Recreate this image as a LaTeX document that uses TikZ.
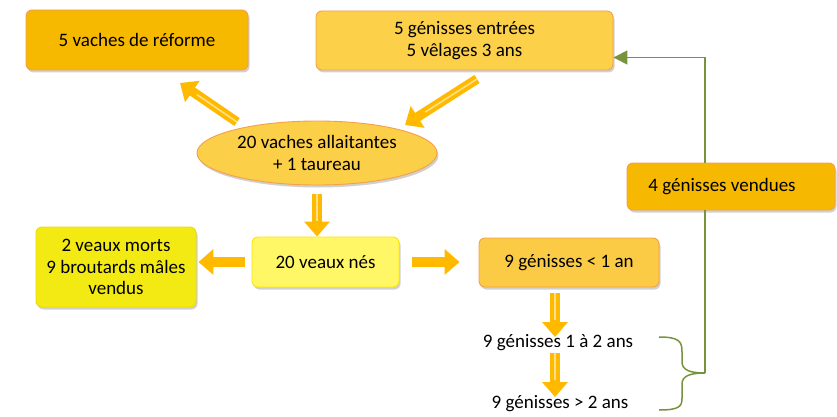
\documentclass[tikz,border=0pt]{standalone}
\usepackage{fontspec}
\setmainfont{Carlito}
\usetikzlibrary{shapes.geometric,arrows.meta,shadows,calc}
\definecolor{cRef}{HTML}{F7B800}
\definecolor{cEnt}{HTML}{FDD04A}
\definecolor{cEll}{HTML}{FCCF48}
\definecolor{cVend}{HTML}{F6B800}
\definecolor{cNes}{HTML}{FFF766}
\definecolor{cNesB}{HTML}{FFE500}
\definecolor{cMorts}{HTML}{F3EA14}
\definecolor{cMortsB}{HTML}{EEDC00}
\definecolor{cG}{HTML}{FCCB45}
\definecolor{cBord}{HTML}{F4A04A}
\definecolor{cArr}{HTML}{FFBA00}
\definecolor{cArrIn}{HTML}{FFDF8A}
\definecolor{cGreen}{HTML}{77933C}
\tikzset{
  txt/.style={font=\fontsize{19}{21.5}\selectfont, align=center, inner sep=1pt},
  boxnode/.style={txt, rectangle, rounded corners=6pt, draw=cBord, line width=0.9pt,
    drop shadow={shadow xshift=1.5pt, shadow yshift=-2.5pt, opacity=0.3, fill=black!60}},
  bigarrow/.style={draw=cArr, line width=9.5pt, -{Triangle[width=25pt,length=15pt]}},
  innerline/.style={draw=cArrIn, line width=1.6pt},
  greenline/.style={draw=cGreen, line width=1.5pt}
}
\begin{document}
\begin{tikzpicture}[x=1pt,y=-1pt]
\useasboundingbox[fill=white] (0,0) rectangle (837,417);

\node[boxnode, fill=cRef, minimum width=222pt, minimum height=60pt] (ref) at (137,40) {5 vaches de réforme};
\node[boxnode, fill=cEnt, minimum width=297pt, minimum height=59pt] (ent) at (464.5,40.5) {5 génisses entrées\\5 vêlages 3 ans};
\node[txt, ellipse, draw=cBord, line width=0.9pt, fill=cEll, minimum width=240pt, minimum height=64pt,
  drop shadow={shadow xshift=1.5pt, shadow yshift=-2.5pt, opacity=0.3, fill=black!60}] (ell) at (317,153) {20 vaches allaitantes\\+ 1 taureau};
\node[boxnode, fill=cVend, minimum width=208pt, minimum height=47pt] (vend) at (731,186.5) {\hspace*{-18pt}4 génisses vendues};
\node[boxnode, fill=cNes, draw=cNesB, minimum width=147pt, minimum height=50pt] (nes) at (325.5,262) {20 veaux nés};
\node[boxnode, fill=cMorts, draw=cMortsB, minimum width=160pt, minimum height=80pt] (morts) at (116,267) {2 veaux morts\\9 broutards mâles\\vendus};
\node[boxnode, fill=cG, minimum width=180pt, minimum height=49pt] (g1) at (569,262.5) {9 génisses < 1 an};
\node[txt] (g12) at (558,343) {9 génisses 1 à 2 ans};
\node[txt] (g2) at (560,404) {9 génisses > 2 ans};

% block arrows
\coordinate (a1s) at (237,122); \coordinate (a1e) at (180,83);
\coordinate (a2s) at (477,79);  \coordinate (a2e) at (405,125);
\coordinate (a6s) at (555,293); \coordinate (a6e) at (555,337);
\coordinate (a7s) at (555,353); \coordinate (a7e) at (555,397);

\draw[bigarrow] (a1s) -- (a1e);
\draw[innerline] (a1s) -- ($(a1s)!0.7!(a1e)$);
\draw[bigarrow] (a2s) -- (a2e);
\draw[innerline] (a2s) -- ($(a2s)!0.72!(a2e)$);
\draw[bigarrow, shorten <=9pt] (ell.south) -- (ell.south |- nes.north);
\draw[innerline, shorten <=9pt, shorten >=16pt] (ell.south) -- (ell.south |- nes.north);
\draw[bigarrow, shorten <=7pt, shorten >=2pt] (nes.west) -- (morts.east |- nes.west);
\draw[bigarrow, shorten <=13pt, shorten >=19pt] (nes.east) -- (g1.west |- nes.east);
\draw[bigarrow] (a6s) -- (a6e);
\draw[innerline] (a6s) -- ($(a6s)!0.62!(a6e)$);
\draw[bigarrow] (a7s) -- (a7e);
\draw[innerline] (a7s) -- ($(a7s)!0.62!(a7e)$);

% green connectors
\coordinate (gx) at (705,0);
\coordinate (tip) at (705,373);
\draw[greenline, -{Triangle[width=14pt,length=14pt]}] (vend.north -| gx) |- ([yshift=-17pt]ent.east);
\draw[greenline] (vend.south -| gx) -- (tip);
\draw[greenline] (659,337) .. controls (680,337) and (682,342) .. (682,352) -- (682,362)
  .. controls (682,370) and (690,373) .. (tip)
  .. controls (690,373) and (682,376) .. (682,384) -- (682,398)
  .. controls (682,406) and (680,410) .. (659,410);
\end{tikzpicture}
\end{document}
